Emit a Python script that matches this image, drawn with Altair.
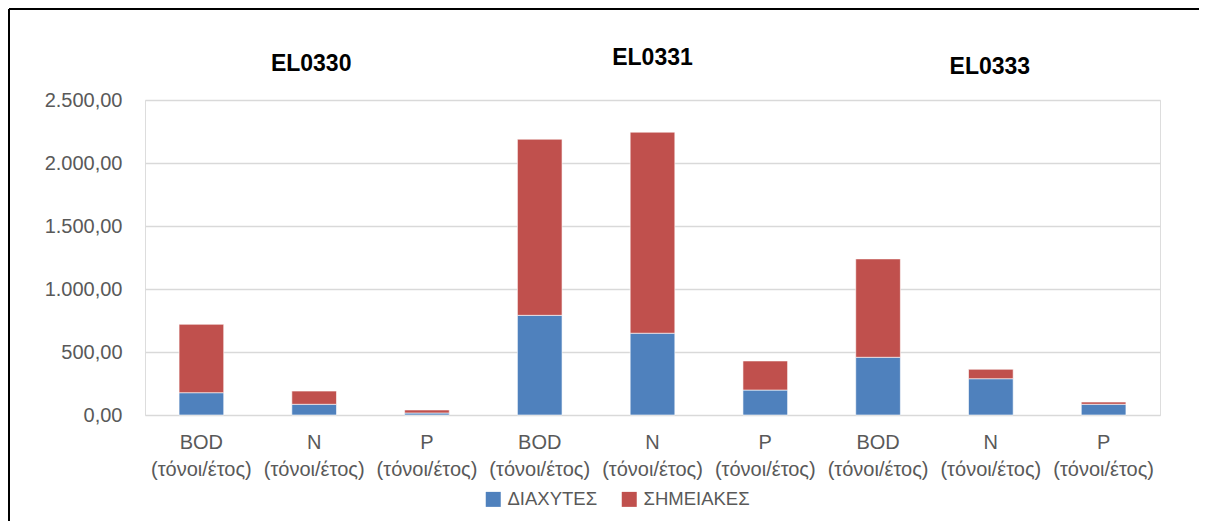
import altair as alt
import pandas as pd

groups = ["EL0330", "EL0331", "EL0333"]
params = ["BOD (τόνοι/έτος)", "N (τόνοι/έτος)", "P (τόνοι/έτος)"]
series = ["ΔΙΑΧΥΤΕΣ", "ΣΗΜΕΙΑΚΕΣ"]
# values per group, in params order
diffuse = [177, 85, 16, 791, 649, 198, 458, 288, 85]
point_src = [543, 105, 24, 1398, 1596, 231, 781, 75, 18]
y_ticks = [0, 500, 1000, 1500, 2000, 2500]
colors = ["#4F81BD", "#C0504D"]

rows = []
keys = []
i = 0
for g in groups:
    for p in params:
        k = g + "|" + p
        keys.append(k)
        rows.append({"key": k, "group": g, "series": series[0], "value": diffuse[i], "ord": 0})
        rows.append({"key": k, "group": g, "series": series[1], "value": point_src[i], "ord": 1})
        i += 1
df = pd.DataFrame(rows)

title_df = pd.DataFrame({"group": groups, "key": [g + "|" + params[1] for g in groups]})
title_y = [-36, -42, -33]
title_dx = [-3, 0, -1]

W, H = 1015, 315

x_enc = alt.X(
    "key:N",
    sort=keys,
    scale=alt.Scale(paddingInner=0.604, paddingOuter=0.302),
    axis=alt.Axis(
        title=None,
        labelExpr="split(split(datum.label, '|')[1], ' ')",
        labelFontSize=20,
        labelFont="Liberation Sans",
        labelColor="#595959",
        labelLineHeight=27,
        labelPadding=17,
        labelAngle=0,
        ticks=False,
        domain=False,
        grid=False,
    ),
)

bars = alt.Chart(df).mark_bar(stroke="#ffffff", strokeWidth=1, strokeOpacity=0.6).encode(
    x=x_enc,
    y=alt.Y(
        "value:Q",
        stack="zero",
        scale=alt.Scale(domain=[0, 2500], nice=False),
        axis=alt.Axis(
            title=None,
            values=y_ticks,
            labelExpr="replace(replace(replace(format(datum.value, ',.2f'), regexp(',', 'g'), '#'), regexp('[.]', 'g'), ','), regexp('#', 'g'), '.')",
            labelFontSize=20,
            labelFont="Liberation Sans",
            labelColor="#595959",
            labelPadding=23,
            ticks=False,
            domain=False,
            grid=True,
            gridColor="#D9D9D9",
            gridWidth=1.5,
        ),
    ),
    color=alt.Color(
        "series:N",
        scale=alt.Scale(domain=series, range=colors),
        legend=alt.Legend(
            title=None,
            orient="none",
            direction="horizontal",
            legendX=339,
            legendY=390,
            symbolType="square",
            symbolSize=225,
            symbolStrokeWidth=0,
            labelFontSize=18.5,
            labelFont="Liberation Sans",
            labelColor="#595959",
            labelOffset=5,
            columnPadding=22,
        ),
    ),
    order=alt.Order("ord:Q"),
)

title_layers = []
for idx, g in enumerate(groups):
    t = alt.Chart(title_df[title_df["group"] == g]).mark_text(
        fontSize=23, font="Liberation Sans", fontWeight="bold", color="#000000",
        baseline="middle", align="center", dx=title_dx[idx]
    ).encode(
        x=alt.X("key:N", sort=keys),
        y=alt.value(title_y[idx]),
        text="group:N",
    )
    title_layers.append(t)

frame_src = alt.Data(values=[{"a": 1}])
frame_top = alt.Chart(frame_src).mark_rule(stroke="#000000", strokeWidth=2, clip=False).encode(
    x=alt.value(-136), x2=alt.value(1054), y=alt.value(-91)
)
frame_left = alt.Chart(frame_src).mark_rule(stroke="#000000", strokeWidth=2, clip=False).encode(
    x=alt.value(-136), y=alt.value(-91), y2=alt.value(421)
)

chart = alt.layer(frame_top, frame_left, bars, *title_layers).properties(
    width=W, height=H,
    autosize=alt.AutoSizeParams(type="none"),
    padding={"left": 137, "top": 92, "right": 40, "bottom": 106},
).configure_view(stroke=None).configure(background="#ffffff")

chart.save("out.html", embed_options={"renderer": "svg", "actions": False})
